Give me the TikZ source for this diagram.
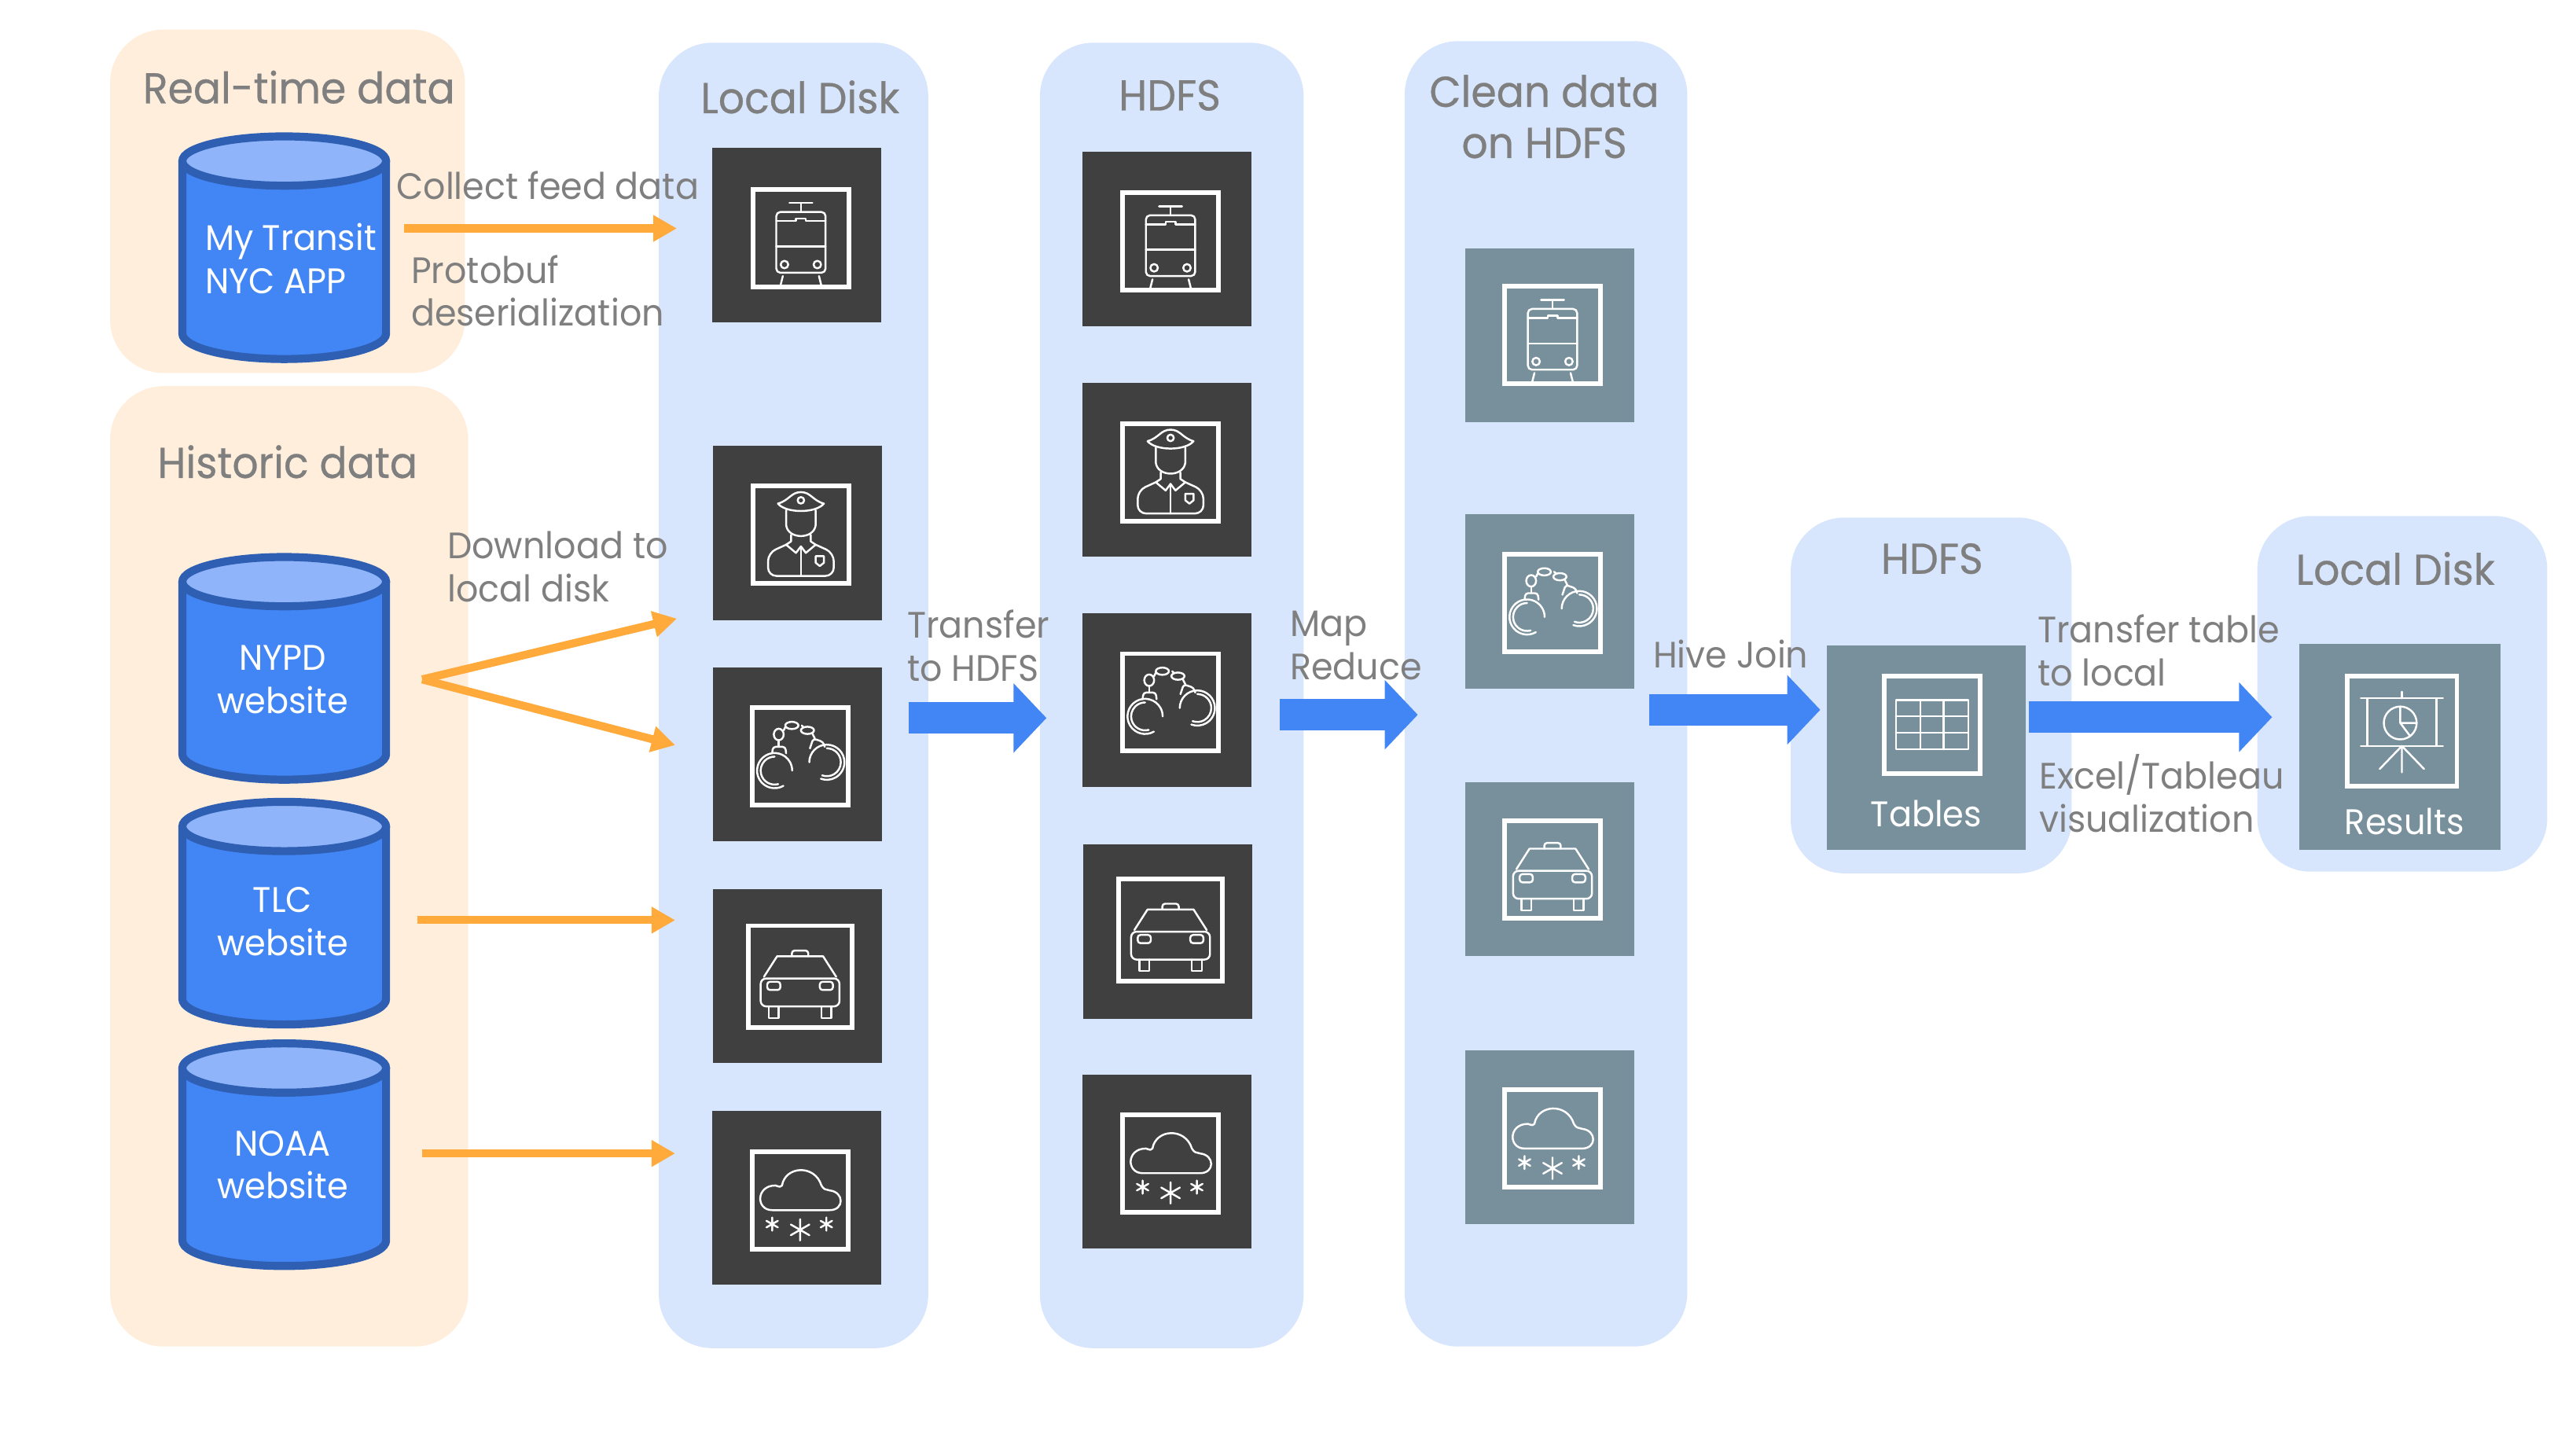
\documentclass[tikz,border=0pt]{standalone}
\usepackage{fontspec}
\setmainfont[FakeStretch=0.95]{Poppins}
\newfontfamily\titlefont[FakeStretch=0.95,FakeBold=0.5]{Poppins}
\usetikzlibrary{arrows.meta}
\definecolor{c0}{HTML}{D7E6FD}
\definecolor{c1}{HTML}{FFEEDC}
\definecolor{c2}{HTML}{404040}
\definecolor{c3}{HTML}{78909C}
\definecolor{c4}{HTML}{FFAA3A}
\definecolor{c5}{HTML}{4285F4}
\definecolor{c6}{HTML}{2F5FB3}
\definecolor{c7}{HTML}{8FB4F9}
\definecolor{c8}{HTML}{7F7F7F}
\tikzset{%
  panel/.style={fill=#1,rounded corners=0.68cm},
  panel/.default=c0,
  title/.style={text=c8,align=center,inner sep=0pt,font=\titlefont\fontsize{15.6}{18.5}\selectfont},
  label/.style={text=c8,align=left,anchor=west,inner sep=0pt,font=\fontsize{13.3}{15.6}\selectfont},
  cyltext/.style={text=white,align=left,inner sep=0pt,font=\fontsize{12.9}{15.6}\selectfont},
  tile/.style={fill=#1,inner sep=0pt,minimum width=2.15cm,minimum height=2.215cm},
  iconframe/.style={draw=white,line width=1.7pt,inner sep=0pt,minimum width=1.22cm,minimum height=1.24cm},
  icon/.style={draw=white,line width=0.7pt,line join=round,line cap=round},
  feed/.style={draw=c4,line width=2.9pt,-{Triangle[length=0.3cm,width=0.32cm]}},
  block/.style={draw=c5,line width=0.4cm,-{Triangle[length=0.42cm,width=0.86cm]}}
}
\NewDocumentCommand\cyldisk{}{%
  \fill[c5] (-62,17) -- (-62,122) arc[start angle=180,end angle=0,x radius=62,y radius=15.5] -- (62,17) -- cycle;
  \draw[c6,line width=2.9pt] (-62,17) -- (-62,122) arc[start angle=180,end angle=0,x radius=62,y radius=15.5] -- (62,17);
  \draw[c6,fill=c7,line width=2.9pt] (0,17) ellipse[x radius=62,y radius=15];
}
\NewDocumentCommand\trainicon{}{%
  \draw[icon] (-7,-21.5) -- (7,-21.5) (0,-21.5) -- (0,-16);
  \draw[icon,rounded corners=1.5pt] (-15,-10) -- (-15,21) -- (15,21) -- (15,-16) -- (-15,-16) -- cycle;
  \draw[icon] (-15,-10.5) -- (-3,-10.5) -- (-3,-12) -- (3,-12) -- (3,-10.5) -- (15,-10.5);
  \draw[icon] (-15,5) -- (15,5);
  \draw[icon] (-10,16) circle[radius=2.3] (10,16) circle[radius=2.3];
  \draw[icon] (-11,23) -- (-12.5,29) (11,23) -- (12.5,29);
}
\NewDocumentCommand\officericon{}{%
  \draw[icon] (-14,-19) .. controls (-7,-21) and (-6,-26) .. (0,-26) .. controls (6,-26) and (7,-21) .. (14,-19) .. controls (9,-13) and (-9,-13) .. (-14,-19);
  \draw[icon] (0,-21) circle[radius=2];
  \draw[icon] (-9,-15) -- (-9,-6) .. controls (-8,3) and (8,3) .. (9,-6) -- (9,-15);
  \draw[icon] (-6,0) -- (-6,4) -- (-9,6) -- (-3,11) -- (0,7) -- (3,11) -- (9,6) -- (6,4) -- (6,0);
  \draw[icon,rounded corners=3pt] (-9,6) -- (-20,11) -- (-20,25) -- (20,25) -- (20,11) -- (9,6);
  \draw[icon] (0,7) -- (0,25);
  \draw[icon] (9,13) -- (14,13) -- (14,17) -- (11.5,19) -- (9,17) -- cycle;
}
\NewDocumentCommand\cuffsicon{}{%
  \draw[icon] (-15.5,8.5) ++(60:10.7) arc[start angle=60,end angle=360,radius=10.7];
  \draw[icon] (-15.5,8.5) ++(75:8.5) arc[start angle=75,end angle=270,radius=8.5];
  \draw[icon] (16.3,3.4) ++(-180:10.7) arc[start angle=-180,end angle=110,radius=10.7];
  \draw[icon] (16.3,3.4) ++(-90:8.5) arc[start angle=-90,end angle=110,radius=8.5];
  \draw[icon,rounded corners=1pt] (-17,-2) -- (-16.5,-6) -- (-9,-6) -- (-8.5,-2);
  \draw[icon,rounded corners=1pt] (6,-5) -- (8,-11) -- (14,-9) -- (15,-6);
  \draw[icon] (-13,-6) -- (-13,-10);
  \draw[icon] (-13,-13.5) ellipse[x radius=3,y radius=3.5];
  \draw[icon] (-5,-19) ellipse[x radius=4,y radius=2.2];
  \draw[icon] (4.5,-16) ellipse[x radius=4,y radius=2.2];
  \draw[icon] (-10,-16) -- (-9,-18) (1,-19) -- (2,-18) (7.5,-14) -- (9,-11);
}
\NewDocumentCommand\caricon{}{%
  \draw[icon] (-22,0) -- (-14,-12.5) -- (14,-12.5) -- (22,0);
  \draw[icon,rounded corners=1pt] (-5,-12.5) -- (-5,-16) -- (5,-16) -- (5,-12.5);
  \draw[icon,rounded corners=2pt] (-24,1) -- (-24,18) -- (24,18) -- (24,1) -- cycle;
  \draw[icon,rounded corners=1pt] (-20,3) rectangle (-12,8);
  \draw[icon,rounded corners=1pt] (12,3) rectangle (20,8);
  \draw[icon] (-19,18) -- (-19,25) -- (-13,25) -- (-13,18);
  \draw[icon] (13,18) -- (13,25) -- (19,25) -- (19,18);
}
\NewDocumentCommand\snowstar{m}{%
  \draw[icon] (0,-#1) -- (0,#1) (-0.87*#1,-0.5*#1) -- (0.87*#1,0.5*#1) (-0.87*#1,0.5*#1) -- (0.87*#1,-0.5*#1);
}
\NewDocumentCommand\snowicon{}{%
  \draw[icon] (-17,6) .. controls (-27,6) and (-27,-9) .. (-15,-9)
    .. controls (-12,-8) and (-12,-8) .. (-11,-9) .. controls (-9,-21) and (9,-22) .. (13,-9)
    .. controls (15,-6) and (15,-7) .. (18,-6)
    .. controls (27,-5) and (27,6) .. (18,6) -- cycle;
  \begin{scope}[shift={(-17,14.5)}]\snowstar{4}\end{scope}
  \begin{scope}[shift={(0,18)}]\snowstar{6.5}\end{scope}
  \begin{scope}[shift={(16,14.5)}]\snowstar{4}\end{scope}
}
\NewDocumentCommand\tableicon{}{%
  \draw[icon] (-22,-15) rectangle (22,15);
  \draw[icon] (-22,-5) -- (22,-5) (-22,5) -- (22,5);
  \draw[icon] (-7,-15) -- (-7,15) (7,-15) -- (7,15);
}
\NewDocumentCommand\easelicon{}{%
  \draw[icon] (-25,-20) -- (25,-20) (0,-24) -- (0,-20);
  \draw[icon] (-25,9) -- (25,9);
  \draw[icon] (-21,-20) -- (-21,9) (21,-20) -- (21,9);
  \draw[icon] (-1,-5) circle[radius=10];
  \draw[icon] (-1,-15) -- (-1,-5) -- (9,-5) (-1,-5) -- (5,3);
  \draw[icon] (0,9) -- (0,25) (0,9) -- (-13.5,23) (0,9) -- (13.5,23);
}

\begin{document}
\begin{tikzpicture}[x=0.0209cm,y=-0.0209cm]
  \useasboundingbox (0,0) rectangle (1568,879);
  % panels
  \fill[panel=c1] (67,18) rectangle (283,227);
  \fill[panel=c1] (67,235) rectangle (285,819.5);
  \fill[panel] (401,26) rectangle (565,820.5);
  \fill[panel] (633,26) rectangle (793.5,820.5);
  \fill[panel] (855,25) rectangle (1027,819.5);
  \fill[panel] (1090,315) rectangle (1261,531.5);
  \fill[panel] (1374,314) rectangle (1550.5,530.5);
  % titles
  \node[title] (rtitle) at (182,53) {Real-time data};
  \node[title] (htitle) at (175,281) {Historic data};
  \node[title] (ldtitle) at (487,59) {Local Disk};
  \node[title] (hdtitle) at (712,58) {HDFS};
  \node[title] (cltitle) at (940,71) {Clean data\\on HDFS};
  \node[title] (hjtitle) at (1176,340) {HDFS};
  \node[title] (rstitle) at (1458,346) {Local Disk};
  % sources
  \begin{scope}[shift={(173,81)}]\cyldisk\end{scope}
  \begin{scope}[shift={(173,337)}]\cyldisk\end{scope}
  \begin{scope}[shift={(173,486)}]\cyldisk\end{scope}
  \begin{scope}[shift={(173,633)}]\cyldisk\end{scope}
  \node[cyltext] (transit) at (177,157.5) {My Transit\\NYC APP};
  \node[cyltext,align=center] (nypd) at (172,413.5) {NYPD\\website};
  \node[cyltext,align=center] (tlc) at (172,561) {TLC\\website};
  \node[cyltext,align=center] (noaa) at (172,709) {NOAA\\website};
  % local disk
  \node[tile=c2] (l0) at (485,143) {};
  \node[tile=c2] (l1) at (485.5,324.5) {};
  \node[tile=c2] (l2) at (485.5,459) {};
  \node[tile=c2] (l3) at (485.5,594) {};
  \node[tile=c2] (l4) at (485,729) {};
  \node[iconframe] (lf0) at (487.5,145) {};
  \node[iconframe] (lf1) at (487.5,325.5) {};
  \node[iconframe] (lf2) at (487,460.5) {};
  \node[iconframe,minimum width=1.32cm,minimum height=1.3cm] (lf3) at (487,594.5) {};
  \node[iconframe] (lf4) at (487,730.5) {};
  \begin{scope}[shift={(lf0)}]\trainicon\end{scope}
  \begin{scope}[shift={(lf1)}]\officericon\end{scope}
  \begin{scope}[shift={(lf2)}]\cuffsicon\end{scope}
  \begin{scope}[shift={(lf3)}]\caricon\end{scope}
  \begin{scope}[shift={(lf4)}]\snowicon\end{scope}
  % hdfs
  \node[tile=c2] (h0) at (710.5,145.5) {};
  \node[tile=c2] (h1) at (710.5,286) {};
  \node[tile=c2] (h2) at (710.5,426) {};
  \node[tile=c2] (h3) at (711,567) {};
  \node[tile=c2] (h4) at (710.5,707) {};
  \node[iconframe] (hf0) at (712.5,147) {};
  \node[iconframe] (hf1) at (712.5,287.5) {};
  \node[iconframe] (hf2) at (712.5,427.5) {};
  \node[iconframe,minimum width=1.32cm,minimum height=1.3cm] (hf3) at (712.5,566) {};
  \node[iconframe] (hf4) at (712.5,708) {};
  \begin{scope}[shift={(hf0)}]\trainicon\end{scope}
  \begin{scope}[shift={(hf1)}]\officericon\end{scope}
  \begin{scope}[shift={(hf2)}]\cuffsicon\end{scope}
  \begin{scope}[shift={(hf3)}]\caricon\end{scope}
  \begin{scope}[shift={(hf4)}]\snowicon\end{scope}
  % clean data
  \node[tile=c3] (c0) at (943.5,204) {};
  \node[tile=c3] (c1) at (943.5,366) {};
  \node[tile=c3] (c2) at (943.5,529) {};
  \node[tile=c3] (c3) at (943.5,692) {};
  \node[iconframe] (cf0) at (945,204) {};
  \node[iconframe] (cf1) at (945,367) {};
  \node[iconframe] (cf2) at (945,529) {};
  \node[iconframe] (cf3) at (945,693) {};
  \begin{scope}[shift={(cf0)}]\trainicon\end{scope}
  \begin{scope}[shift={(cf1)}]\cuffsicon\end{scope}
  \begin{scope}[shift={(cf2)}]\caricon\end{scope}
  \begin{scope}[shift={(cf3)}]\snowicon\end{scope}
  % results
  \node[tile=c3,minimum width=2.54cm,minimum height=2.6cm] (tb) at (1172.5,455) {};
  \node[tile=c3,minimum width=2.56cm,minimum height=2.62cm] (rs) at (1461,454.5) {};
  \node[iconframe] (tbf) at (1176,441) {};
  \node[iconframe,minimum width=1.4cm,minimum height=1.4cm] (rsf) at (1462,445) {};
  \begin{scope}[shift={(tbf)}]\tableicon\end{scope}
  \begin{scope}[shift={(rsf)}]\easelicon\end{scope}
  \node[cyltext] (tbtext) at (1172.5,495) {Tables};
  \node[cyltext] (rstext) at (1463.5,500) {Results};
  % arrows
  \coordinate (s0) at (246,139);
  \coordinate (e0) at (412,139);
  \coordinate (s1) at (257,413.5);
  \coordinate (e1) at (412,376.5);
  \coordinate (e2) at (411,453.5);
  \coordinate (s2) at (254,560);
  \coordinate (e3) at (411,560);
  \coordinate (s3) at (257,702);
  \coordinate (e4) at (411,702);
  \draw[feed] (s0) -- (e0);
  \draw[feed] (s1) -- (e1);
  \draw[feed] (s1) -- (e2);
  \draw[feed] (s2) -- (e3);
  \draw[feed] (s3) -- (e4);
  \coordinate (b0) at (553,437);
  \coordinate (b1) at (637,437);
  \coordinate (b2) at (779,435);
  \coordinate (b3) at (863,435);
  \coordinate (b4) at (1004,432);
  \coordinate (b5) at (1108,432);
  \coordinate (b6) at (1235,436.5);
  \coordinate (b7) at (1383,436.5);
  \draw[block] (b0) -- (b1);
  \draw[block] (b2) -- (b3);
  \draw[block] (b4) -- (b5);
  \draw[block] (b6) -- (b7);
  % labels
  \node[label] (collect) at (241,113) {Collect feed data};
  \node[label] (proto) at (250,177) {Protobuf\\deserialization};
  \node[label] (down) at (272,345) {Download to\\local disk};
  \node[label] (trans) at (552,393) {Transfer\\to HDFS};
  \node[label] (mapred) at (785,393) {Map\\Reduce};
  \node[label] (hive) at (1006,398) {Hive Join};
  \node[label] (tolocal) at (1240,396) {Transfer table\\to local};
  \node[label] (excel) at (1241,483) {Excel/Tableau\\visualization};
\end{tikzpicture}
\end{document}
